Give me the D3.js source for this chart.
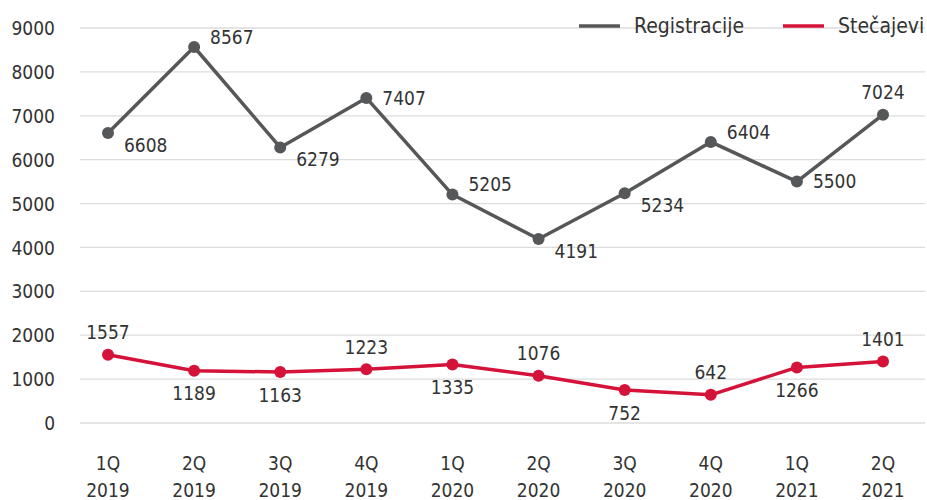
<!DOCTYPE html>
<html>
<head>
<meta charset="utf-8">
<script src="https://cdn.jsdelivr.net/npm/d3@7"></script>
<style>
  body { margin: 0; background: #fff; }
  svg text { font-family: "DejaVu Sans Condensed", "DejaVu Sans", sans-serif; fill: #333; }
</style>
</head>
<body>
<div class="chart"></div>
<script>
/* Data
============================================= */
const quarters = ["1Q", "2Q", "3Q", "4Q", "1Q", "2Q", "3Q", "4Q", "1Q", "2Q"];
const years    = ["2019", "2019", "2019", "2019", "2020", "2020", "2020", "2020", "2021", "2021"];

const registracije = [6608, 8567, 6279, 7407, 5205, 4191, 5234, 6404, 5500, 7024];
const stecajevi    = [1557, 1189, 1163, 1223, 1335, 1076, 752, 642, 1266, 1401];

const yTicks = [0, 1000, 2000, 3000, 4000, 5000, 6000, 7000, 8000, 9000];

// where each value label sits relative to its point
const regLabelPos = ["br", "tr", "br", "r", "tr", "br", "br", "tr", "r", "t"];
const stecLabelPos = ["t", "b", "b", "t", "b", "t", "b", "t", "b", "t"];

/* Constants
============================================= */
const SVG_WIDTH = 927;
const SVG_HEIGHT = 500;
const GREY = "#555759";
const RED = "#d4123a";
const FONT = 19;

var svg = d3.select(".chart")
    .append("svg")
    .attr("width", SVG_WIDTH)
    .attr("height", SVG_HEIGHT);

var xScale = d3.scalePoint()
    .domain(d3.range(quarters.length))
    .range([108, 883]);

var yScale = d3.scaleLinear()
    .domain([0, 9000])
    .range([423, 28]);

// gridlines
svg.append("g")
    .selectAll("line")
    .data(yTicks)
    .enter()
    .append("line")
    .attr("x1", 80)
    .attr("x2", 925)
    .attr("y1", d => yScale(d))
    .attr("y2", d => yScale(d))
    .attr("stroke", "#dcdcdc")
    .attr("stroke-width", 1.3);

// y axis
var leftAxis = d3.axisLeft(yScale)
    .tickValues(yTicks)
    .tickFormat(d3.format("d"))
    .tickSize(0)
    .tickPadding(0);
var yAxis = svg.append("g")
    .attr("transform", "translate(55,0)")
    .call(leftAxis);
yAxis.select(".domain").remove();
yAxis.selectAll("text")
    .attr("font-size", FONT)
    .attr("font-family", null)
    .attr("fill", null)
    .attr("dy", "0.35em");

// x axis (two line labels)
var xLabels = svg.append("g")
    .selectAll("text")
    .data(quarters)
    .enter()
    .append("text")
    .attr("x", (d, i) => xScale(i))
    .attr("text-anchor", "middle")
    .attr("font-size", FONT);
xLabels.append("tspan")
    .attr("x", (d, i) => xScale(i))
    .attr("y", 470)
    .text(d => d);
xLabels.append("tspan")
    .attr("x", (d, i) => xScale(i))
    .attr("y", 497)
    .text((d, i) => years[i]);

/*
 * draws one series: line, dots, value labels
 */
function drawSeries(values, color, labelPos) {
    var line = d3.line()
        .x((d, i) => xScale(i))
        .y(d => yScale(d));

    var g = svg.append("g");

    g.append("path")
        .datum(values)
        .attr("d", line)
        .attr("fill", "none")
        .attr("stroke", color)
        .attr("stroke-width", 3.5)
        .attr("stroke-linejoin", "round");

    g.selectAll("circle")
        .data(values)
        .enter()
        .append("circle")
        .attr("cx", (d, i) => xScale(i))
        .attr("cy", d => yScale(d))
        .attr("r", 6)
        .attr("fill", color);

    g.selectAll("text")
        .data(values)
        .enter()
        .append("text")
        .attr("font-size", FONT)
        .attr("x", (d, i) => {
            var p = labelPos[i];
            return xScale(i) + (p.indexOf("r") >= 0 ? 16 : 0);
        })
        .attr("y", (d, i) => {
            var p = labelPos[i];
            var off = 0;
            if (p === "t") off = -22;
            else if (p === "b") off = 23;
            else if (p === "tr") off = -10;
            else if (p === "br") off = 12;
            return yScale(d) + off;
        })
        .attr("dy", "0.35em")
        .attr("text-anchor", (d, i) => labelPos[i].indexOf("r") >= 0 ? "start" : "middle")
        .text(d => d);
}

drawSeries(registracije, GREY, regLabelPos);
drawSeries(stecajevi, RED, stecLabelPos);

// legend
var legendItems = [
    { name: "Registracije", color: GREY, x: 579 },
    { name: "Stečajevi", color: RED, x: 783 }
];
var legend = svg.append("g")
    .selectAll("g")
    .data(legendItems)
    .enter()
    .append("g")
    .attr("transform", d => `translate(${d.x},26)`);
legend.append("line")
    .attr("x1", 0)
    .attr("x2", 41)
    .attr("stroke", d => d.color)
    .attr("stroke-width", 3.5);
legend.append("text")
    .attr("x", 55)
    .attr("dy", "0.35em")
    .attr("font-size", 21)
    .text(d => d.name);
</script>
</body>
</html>
